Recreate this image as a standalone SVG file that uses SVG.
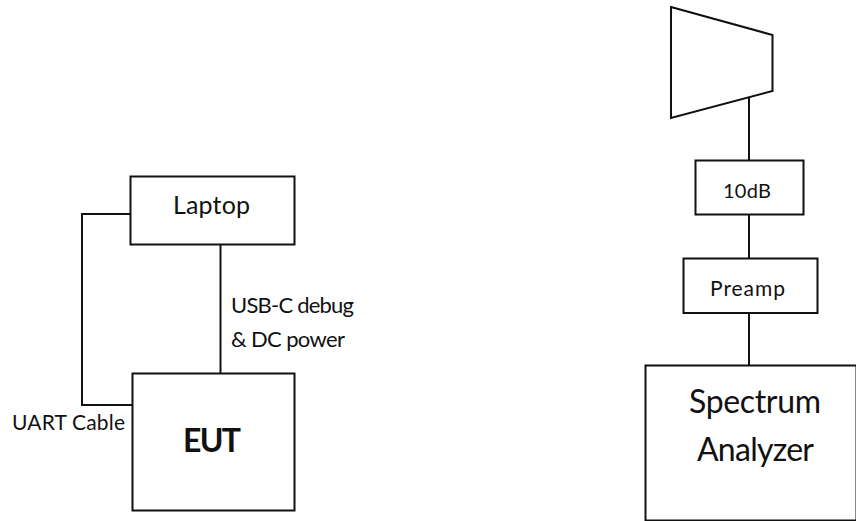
<svg xmlns="http://www.w3.org/2000/svg" width="856" height="521" viewBox="0 0 856 521">
<style>
.b{fill:#fff;stroke:#111;stroke-width:2}
.c{fill:none;stroke:#111;stroke-width:2}
text{font-family:"Lato","Open Sans",sans-serif;fill:#111}
</style>
<rect width="856" height="521" fill="#fff"/>
<g id="connectors">
<path class="c" d="M133 214H82V405H133"/>
<path class="c" d="M220.500 244V373"/>
<path class="c" d="M749 98V160"/>
<path class="c" d="M749 214V259"/>
<path class="c" d="M749 313V365"/>
</g>
<g id="laptop"><rect class="b" x="130.500" y="176.500" width="164" height="68"/><text x="173" y="214" font-size="25" textLength="77">Laptop</text></g>
<g id="eut"><rect class="b" x="132.500" y="373.500" width="162" height="137"/><text x="183" y="452" font-size="32" font-weight="700" textLength="58">EUT</text></g>
<g id="horn"><polygon class="b" stroke="#444" points="671,7 772.500,35 772.500,91 671,118"/></g>
<g id="attenuator"><rect class="b" x="695.500" y="160.500" width="108" height="54"/><text x="723" y="198" font-size="20" textLength="48">10dB</text></g>
<g id="preamp"><rect class="b" x="683.500" y="258.500" width="134" height="54.500"/><text x="710" y="296" font-size="21" textLength="75">Preamp</text></g>
<g id="analyzer"><rect class="b" x="645.500" y="365.500" width="211" height="155"/><text x="689" y="413" font-size="32" textLength="132">Spectrum</text><text x="697" y="461" font-size="32" textLength="117">Analyzer</text></g>
<g id="labels">
<text x="231" y="313" font-size="22" textLength="123">USB-C debug</text>
<text x="231" y="347" font-size="22" textLength="114">&amp; DC power</text>
<text x="12" y="430" font-size="21" textLength="113">UART Cable</text>
</g>
</svg>
